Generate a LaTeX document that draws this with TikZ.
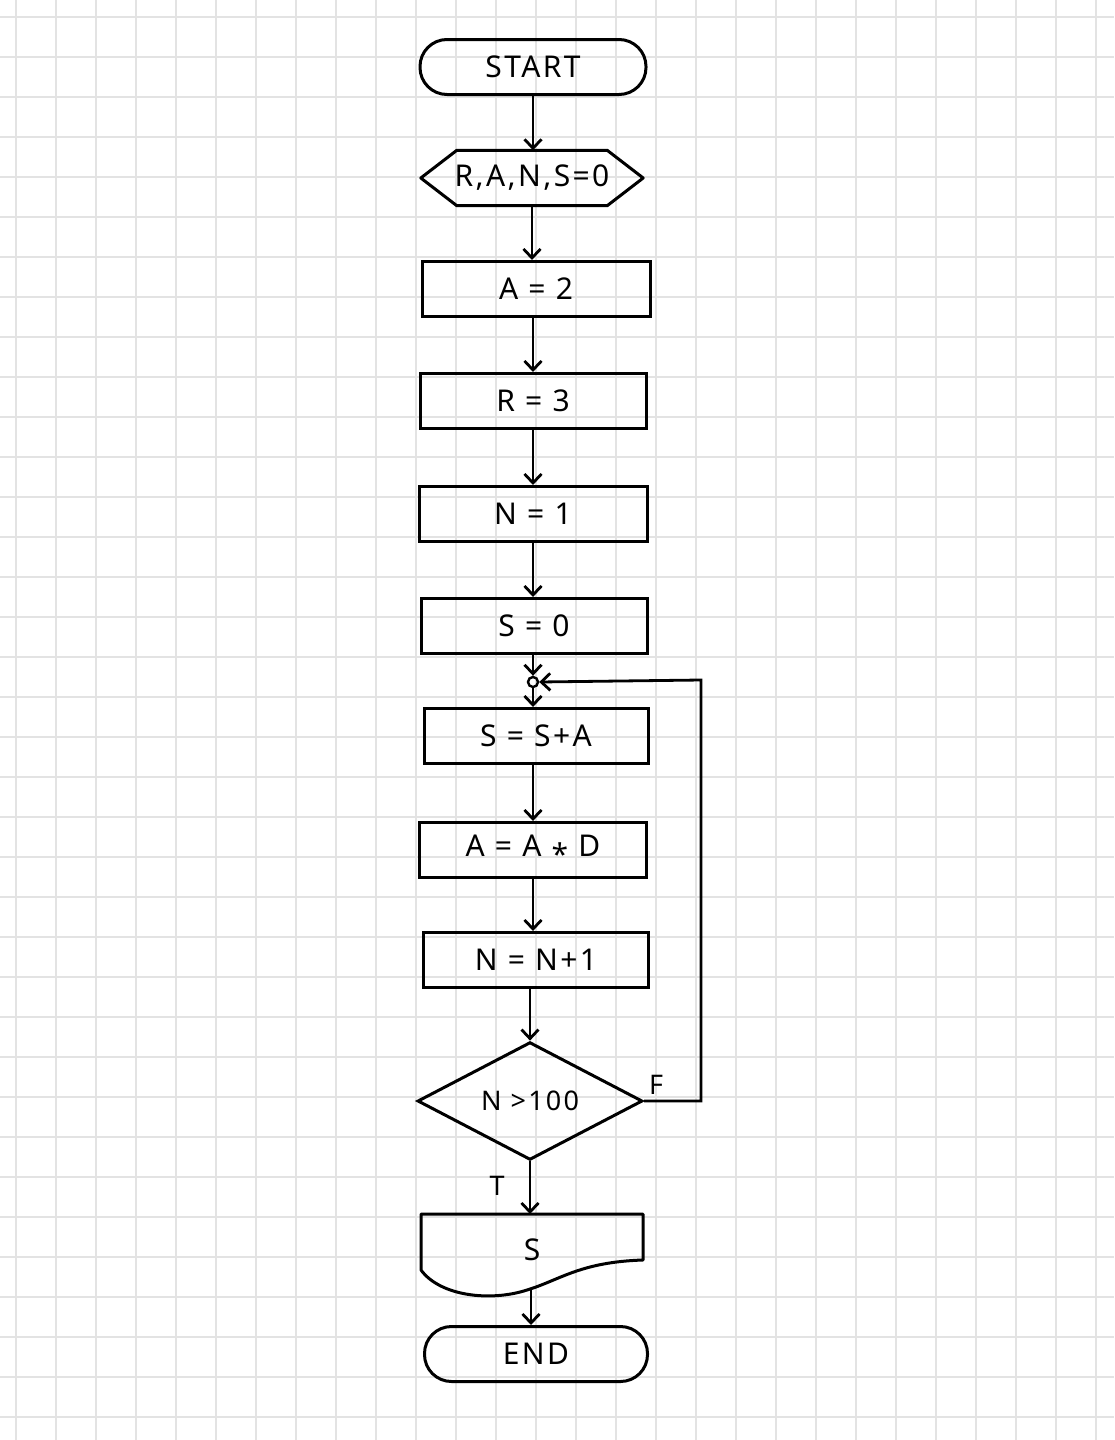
\documentclass[tikz,border=0pt]{standalone}
\usepackage{fontspec}
\setmainfont{Noto Sans}[LetterSpace=8]
\usetikzlibrary{shapes.geometric,arrows.meta}
\tikzset{
  gridline/.style={draw=black!11, line width=1.6pt},
  txt/.style={font=\fontsize{30}{34}\selectfont},
  box/.style={draw, line width=3pt, minimum width=226pt, minimum height=55pt, inner sep=0pt, txt},
  term/.style={box, rounded corners=27pt},
  ghost/.style={draw=none, minimum width=222pt, minimum height=55pt, inner sep=0pt, txt},
  decision/.style={draw, diamond, line width=3pt, minimum width=225pt, minimum height=112pt, inner sep=0pt, font=\fontsize{27}{30}\selectfont},
  outline/.style={line width=3pt, line join=round},
  flow/.style={line width=2.8pt, -{Straight Barb[length=9pt,width=17pt,line width=2.8pt]}},
  lbl/.style={font=\fontsize{27}{30}\selectfont, inner sep=0pt}
}
\begin{document}
\begin{tikzpicture}[x=1pt,y=-1pt]
\fill[white] (0,0) rectangle (1114,1440);
\useasboundingbox (0,0) rectangle (1114,1440);
\foreach \x in {16,56,...,1096} \draw[gridline] (\x,0) -- (\x,1440);
\foreach \y in {17,57,...,1437} \draw[gridline] (0,\y) -- (1114,\y);

\node[term] (start) at (533,67) {START};
\node[ghost] (inp) at (532,178) {R,A,N,S=0};
\draw[outline] (inp.west) -- ([xshift=36pt]inp.north west) -- ([xshift=-36pt]inp.north east) -- (inp.east) -- ([xshift=-36pt]inp.south east) -- ([xshift=36pt]inp.south west) -- cycle;
\node[box, minimum width=228pt] (a2) at (536,289) {A = 2};
\node[box] (r3) at (533,401) {R = 3};
\node[box, minimum width=228pt] (n1) at (533,514) {N = 1};
\node[box] (s0) at (534,626) {S = 0};
\node[circle, draw, line width=2.4pt, minimum size=10pt, inner sep=0pt] (jn) at (533,682) {};
\node[box, minimum width=224pt] (ssa) at (536,736) {S = S+A};
\node[box, minimum width=227pt] (aad) at (533,850) {A = A \raisebox{-0.3em}{*} D};
\node[box, minimum width=225pt] (nn1) at (536,960) {N = N+1};
\node[decision] (dec) at (530,1101) {N >100};
\node[ghost] (out) at (532,1256) {};
\node[lbl, font=\fontsize{30}{34}\selectfont] at (532,1250) {S};
\draw[outline] (421,1214) -- (643,1214) -- (643,1260) .. controls (580,1262) and (560,1280) .. (527,1290) .. controls (490,1302) and (440,1296) .. (421,1270) -- cycle;
\coordinate (outb) at (531,1290);
\node[term, minimum width=223pt] (end) at (536,1354) {END};

\draw[flow] (start.south) -- (start.south |- inp.north);
\draw[flow] (inp.south) -- (inp.south |- a2.north);
\draw[flow] (a2.south -| r3.north) -- (r3.north);
\draw[flow] (r3.south) -- (r3.south |- n1.north);
\draw[flow] (n1.south) -- (n1.south |- s0.north);
\draw[flow] (s0.south -| jn.north) -- (jn.north);
\draw[flow] (jn.south) -- (jn.south |- ssa.north);
\draw[flow] (jn.south |- ssa.south) -- (jn.south |- aad.north);
\draw[flow] (jn.south |- aad.south) -- (jn.south |- nn1.north);
\draw[flow] (nn1.south -| dec.north) -- (dec.north);
\draw[flow] (dec.east) -- (701,1101) -- (701,680) -- (jn.east);
\draw[flow] (dec.south) -- (dec.south |- 0,1214);
\draw[flow] (outb) -- (outb |- end.north);
\node[lbl] at (656,1085) {F};
\node[lbl] at (497,1186) {T};
\end{tikzpicture}
\end{document}
